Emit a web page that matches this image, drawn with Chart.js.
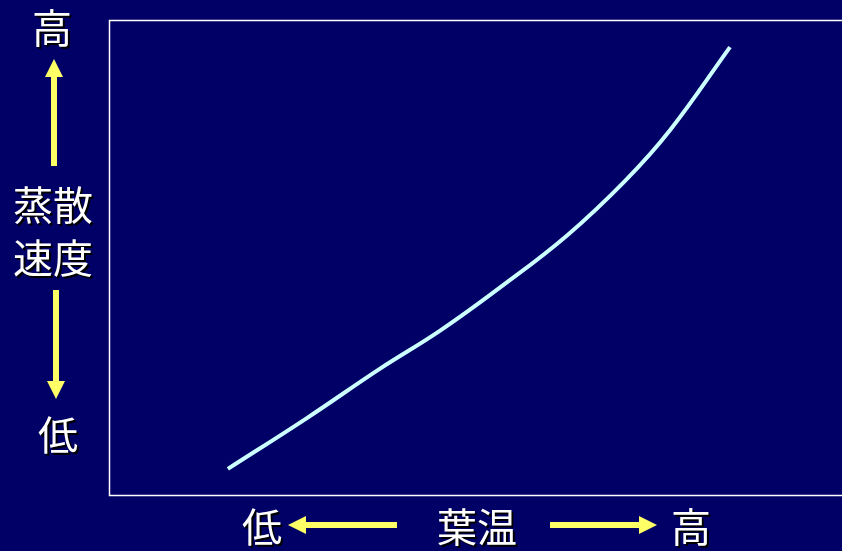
<!DOCTYPE html>
<html lang="ja">
<head>
<meta charset="utf-8">
<title>葉温と蒸散速度</title>
<script src="https://cdn.jsdelivr.net/npm/chart.js@4/dist/chart.umd.min.js"></script>
<style>
  html, body { margin: 0; padding: 0; background: #000066; }
  #wrap { position: relative; width: 842px; height: 551px; overflow: hidden; background: #000066; }
  #chart { position: absolute; left: 0; top: 0; }
  .lbl {
    position: absolute;
    font-family: "Noto Sans CJK JP", "Noto Sans CJK SC", sans-serif;
    font-size: 40px;
    line-height: 1;
    color: #ffffff;
    text-shadow: 2px 2px 0 #000000;
    transform: translate(-50%, -50%);
    white-space: nowrap;
  }
  svg.arrows { position: absolute; left: 0; top: 0; }
</style>
</head>
<body>
<div id="wrap">
  <canvas id="chart" width="842" height="551"></canvas>
  <svg class="arrows" width="842" height="551">
    <g fill="#ffff66">
      <!-- vertical axis: up arrow -->
      <rect x="51" y="76" width="6" height="90"/>
      <polygon points="54,59 45,77 63,77"/>
      <!-- vertical axis: down arrow -->
      <rect x="53" y="290" width="6" height="92"/>
      <polygon points="56,399 47,381 65,381"/>
      <!-- horizontal axis: left arrow -->
      <rect x="304" y="522" width="93" height="6"/>
      <polygon points="288,525 306,516 306,534"/>
      <!-- horizontal axis: right arrow -->
      <rect x="550" y="522" width="91" height="6"/>
      <polygon points="657,525 639,516 639,534"/>
    </g>
  </svg>
  <div class="lbl" style="left:52px; top:26px;">高</div>
  <div class="lbl" style="left:53px; top:203px;">蒸散</div>
  <div class="lbl" style="left:53px; top:256px;">速度</div>
  <div class="lbl" style="left:58px; top:433px;">低</div>
  <div class="lbl" style="left:262px; top:525px;">低</div>
  <div class="lbl" style="left:477px; top:525px;">葉温</div>
  <div class="lbl" style="left:691px; top:525px;">高</div>
</div>
<script>
// Leaf temperature (relative, 0–100) and transpiration rate (relative, 0–100)
const leafTemp = [16.1, 26.9, 36.9, 45.1, 53.3, 62.4, 70.4, 76.5, 84.7];
const transpiration = [5.5, 16.2, 26.6, 34.6, 43.7, 54.6, 66.2, 76.8, 94.3];

const points = leafTemp.map((x, i) => ({ x: x, y: transpiration[i] }));

// Draws the white frame around the plot area (right side runs off the canvas)
const framePlugin = {
  id: 'frame',
  beforeDatasetsDraw(chart) {
    const { ctx, chartArea } = chart;
    ctx.save();
    ctx.strokeStyle = '#ffffff';
    ctx.lineWidth = 1.5;
    ctx.strokeRect(chartArea.left - 0.5, chartArea.top + 0.5,
                   chartArea.right - chartArea.left + 20, chartArea.bottom - chartArea.top);
    ctx.restore();
  }
};

new Chart(document.getElementById('chart'), {
  type: 'line',
  data: {
    datasets: [{
      data: points,
      borderColor: '#ccffff',
      borderWidth: 4,
      pointRadius: 0,
      fill: false,
      tension: 0.4,
      borderCapStyle: 'butt'
    }]
  },
  options: {
    responsive: false,
    animation: false,
    layout: { padding: { left: 110, top: 20, right: 0, bottom: 56 } },
    plugins: { legend: { display: false }, tooltip: { enabled: false } },
    scales: {
      x: { type: 'linear', min: 0, max: 100, display: false },
      y: { type: 'linear', min: 0, max: 100, display: false }
    }
  },
  plugins: [framePlugin]
});
</script>
</body>
</html>
